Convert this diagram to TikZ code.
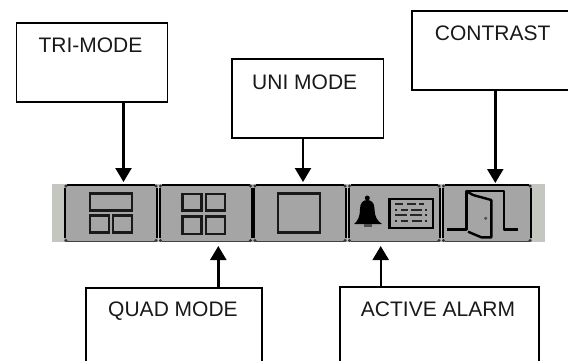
\documentclass[tikz,border=0pt]{standalone}
\usepackage{fontspec}
\setmainfont{Liberation Sans}
\usetikzlibrary{arrows.meta}
\definecolor{btn}{RGB}{165,165,165}
\definecolor{barbg}{RGB}{196,198,192}
\tikzset{
  callout/.style={draw=black,line width=1.6pt,fill=white,inner sep=0pt,anchor=north west},
  caption/.style={inner sep=0pt,font=\fontsize{21}{21}\selectfont,text=black!90},
  pointer/.style={line width=2.4pt,-{Triangle[width=16pt,length=14pt]}},
  glyph/.style={line width=2.6pt,draw=black!90},
  tinydash/.style={line width=1.9pt,draw=black!85}
}
\newcommand{\btnshape}[2]{%
  \fill[btn] (#1,185) rectangle (#2,241.5);
  \draw[line width=2.4pt,black] (#1+3,184.8) -- (#2-3,184.8);
  \draw[line width=1.3pt,black!75] (#1+3,241.5) -- (#2-3,241.5);
  \draw[line width=2pt,black] (#1+1,188) -- (#1+1,238);
  \draw[line width=2pt,black] (#2-1,188) -- (#2-1,238);
  \fill[black!80] (#1+2,186) circle (1.6pt) (#2-2,186) circle (1.6pt)
                  (#1+2,240.5) circle (1.6pt) (#2-2,240.5) circle (1.6pt);
}
\begin{document}
\begin{tikzpicture}[x=1pt,y=-1pt]
\clip (0,0) rectangle (568,360);
\fill[white] (0,0) rectangle (568,360);
% toolbar
\fill[barbg] (52,184) rectangle (545,242);
\btnshape{64}{158}
\btnshape{158.5}{252.5}
\btnshape{253}{347}
\btnshape{347.5}{441}
\btnshape{441.5}{532}
% tri icon
\draw[glyph] (90,193.3) rectangle (132,210.7);
\draw[glyph] (90,215.3) rectangle (109,232.7);
\draw[glyph] (113,215.3) rectangle (132,232.7);
% quad icon
\draw[glyph] (182.7,194) rectangle (201.7,210.7);
\draw[glyph] (206,194) rectangle (225,210.7);
\draw[glyph] (182.7,216.7) rectangle (201.7,234);
\draw[glyph] (206,216.7) rectangle (225,234);
% uni icon
\draw[glyph] (278,193.3) rectangle (320,232.3);
% bell
\fill[black] (367.3,198) circle (2.5pt);
\fill[black] (354,224) .. controls (358,221) and (360,216) .. (360,209)
  .. controls (360,203) and (363,200) .. (367.3,200)
  .. controls (371.5,200) and (374.5,203) .. (374.5,209)
  .. controls (374.5,216) and (377,221) .. (382,224) -- cycle;
\fill[black!70] (364,224) rectangle (372,227);
% keyboard
\draw[line width=2.4pt,black] (389.3,199) rectangle (432.7,227.7);
\draw[tinydash] (395,204) -- (403.3,204) (406.7,204) -- (415.7,204) (419,204) -- (424.3,204);
\draw[tinydash] (395,210) -- (397.3,210) (401,210) -- (408.3,210) (411,210) -- (421.7,210) (425,210) -- (427,210);
\draw[tinydash] (395,215.3) -- (406.7,215.3) (410,215.3) -- (421.7,215.3) (425,215.3) -- (427,215.3);
\draw[tinydash] (395,221) -- (397.3,221) (401,221) -- (408.3,221) (411.7,221) -- (421.7,221) (425,221) -- (427,221);
% door
\draw[line width=2.4pt,black,line join=round] (447.3,229.3) -- (466.3,229.3) -- (466.3,191) -- (503.7,191) -- (503.7,229.3) -- (518,229.3);
\draw[line width=2.4pt,black,line join=round] (466.3,191) -- (473,195) -- (491.3,200) -- (491.3,237.3) -- (481.3,237.3) -- (468,231.7);
\fill[black!70] (485.7,218.3) circle (1.7pt);
% callouts
\node[callout,minimum width=151pt,minimum height=79pt] (tri) at (15.5,22) {};
\node[callout,minimum width=151.5pt,minimum height=79pt] (uni) at (231,58) {};
\node[callout,minimum width=164pt,minimum height=79pt] (con) at (411,10) {};
\node[callout,minimum width=176pt,minimum height=79pt] (quad) at (85,287) {};
\node[callout,minimum width=199pt,minimum height=79pt] (alarm) at (339,286) {};
\node[caption] (tritext) at (90.5,45) {TRI-MODE};
\node[caption] (unitext) at (304.7,82) {UNI MODE};
\node[caption] (context) at (492.6,33) {CONTRAST};
\node[caption] (quadtext) at (173,311) {QUAD MODE};
\node[caption] (alarmtext) at (438,309) {ACTIVE ALARM};
% arrow tips
\coordinate (tiptri) at (123.5,182);
\coordinate (tipuni) at (303,182);
\coordinate (tipcon) at (495.3,183);
\coordinate (tipquad) at (218.3,246);
\coordinate (tipalarm) at (380.7,246);
\draw[pointer] (tri.south -| tiptri) -- (tiptri);
\draw[pointer] (uni.south -| tipuni) -- (tipuni);
\draw[pointer] (con.south -| tipcon) -- (tipcon);
\draw[pointer] (quad.north -| tipquad) -- (tipquad);
\draw[pointer] (alarm.north -| tipalarm) -- (tipalarm);
\end{tikzpicture}
\end{document}
